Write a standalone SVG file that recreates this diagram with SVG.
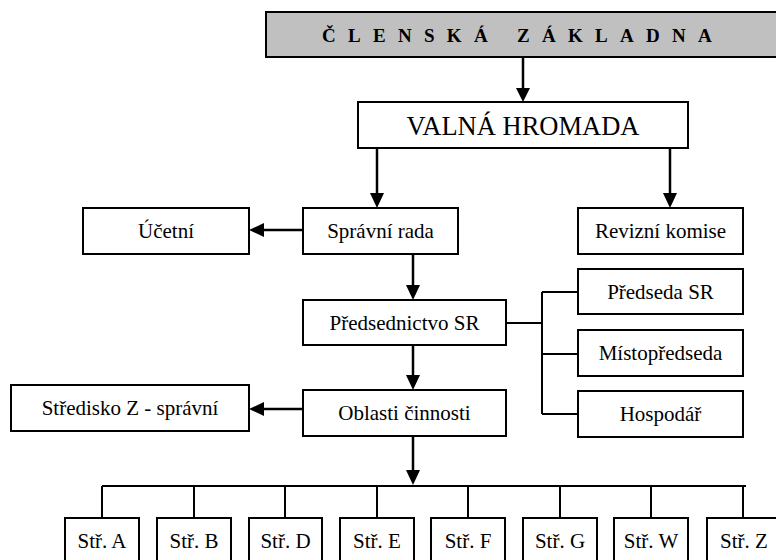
<svg xmlns="http://www.w3.org/2000/svg" width="776" height="560" viewBox="0 0 776 560">
<defs>
<style>
.box{fill:#fff;stroke:#000;stroke-width:2}
.hdr{fill:#c0c0c0;stroke:#000;stroke-width:2}
.t{font-family:"Liberation Serif","Times New Roman",serif;font-size:21px;fill:#000;text-anchor:middle}
.big{font-size:26.5px}
.ht{font-family:"Liberation Serif","Times New Roman",serif;font-size:19px;font-weight:bold;fill:#000;letter-spacing:12.3px}
.arr{fill:none;stroke:#000;stroke-width:2.5}
.ln{fill:none;stroke:#000;stroke-width:2}
.ah{fill:#000}
</style>
</defs>
<g id="connectors">
<path class="arr" d="M523 57V90"/><path class="ah" d="M516 88H530L523 102Z"/>
<path class="arr" d="M377 148V194"/><path class="ah" d="M370 193H384L377 208Z"/>
<path class="arr" d="M670 148V194"/><path class="ah" d="M663 193H677L670 208Z"/>
<path class="arr" d="M303 230H262"/><path class="ah" d="M264 223V237L249 230Z"/>
<path class="arr" d="M413 254V287"/><path class="ah" d="M406 285H420L413 300Z"/>
<path class="arr" d="M413 345V377"/><path class="ah" d="M406 375H420L413 390Z"/>
<path class="arr" d="M303 409H262"/><path class="ah" d="M264 402V416L249 409Z"/>
<path class="arr" d="M413 436V472"/><path class="ah" d="M406 470H420L413 485Z"/>
<path class="ln" d="M506 323H542M542 292V414M542 292H578M542 354H578M542 414H578"/>
<path class="ln" d="M102 486H746M102 486V518M194 486V518M285 486V518M377 486V518M468 486V518M560 486V518M651 486V518M743 486V518"/>
</g>
<g id="clenska-zakladna"><rect class="hdr" x="266" y="12" width="520" height="45"/><text class="ht" x="322" y="42">ČLENSKÁ ZÁKLADNA</text></g>
<g id="valna-hromada"><rect class="box" x="358" y="102" width="330" height="46"/><text class="t big" x="523" y="135">VALNÁ HROMADA</text></g>
<g id="ucetni"><rect class="box" x="83" y="208" width="166" height="46"/><text class="t" x="166" y="238">Účetní</text></g>
<g id="spravni-rada"><rect class="box" x="303" y="208" width="155" height="46"/><text class="t" x="380.5" y="238">Správní rada</text></g>
<g id="revizni-komise"><rect class="box" x="578" y="208" width="165" height="46"/><text class="t" x="660.5" y="238">Revizní komise</text></g>
<g id="predsednictvo"><rect class="box" x="303" y="300" width="203" height="45"/><text class="t" x="404.5" y="330">Předsednictvo SR</text></g>
<g id="predseda"><rect class="box" x="578" y="269" width="165" height="45"/><text class="t" x="660.5" y="299">Předseda SR</text></g>
<g id="mistopredseda"><rect class="box" x="578" y="330" width="165" height="46"/><text class="t" x="660.5" y="360">Místopředseda</text></g>
<g id="hospodar"><rect class="box" x="578" y="391" width="165" height="46"/><text class="t" x="660.5" y="421">Hospodář</text></g>
<g id="oblasti"><rect class="box" x="303" y="390" width="203" height="46"/><text class="t" x="404.5" y="420">Oblasti činnosti</text></g>
<g id="stredisko-z"><rect class="box" x="11" y="385" width="238" height="46"/><text class="t" x="130" y="415">Středisko Z - správní</text></g>
<g id="str-a"><rect class="box" x="65" y="518" width="74" height="50"/><text class="t" x="102" y="548">Stř. A</text></g>
<g id="str-b"><rect class="box" x="157" y="518" width="74" height="50"/><text class="t" x="194" y="548">Stř. B</text></g>
<g id="str-d"><rect class="box" x="249" y="518" width="73" height="50"/><text class="t" x="285.5" y="548">Stř. D</text></g>
<g id="str-e"><rect class="box" x="340" y="518" width="74" height="50"/><text class="t" x="377" y="548">Stř. E</text></g>
<g id="str-f"><rect class="box" x="431" y="518" width="74" height="50"/><text class="t" x="468" y="548">Stř. F</text></g>
<g id="str-g"><rect class="box" x="523" y="518" width="74" height="50"/><text class="t" x="560" y="548">Stř. G</text></g>
<g id="str-w"><rect class="box" x="614" y="518" width="74" height="50"/><text class="t" x="651" y="548">Stř. W</text></g>
<g id="str-z"><rect class="box" x="707" y="518" width="74" height="50"/><text class="t" x="744" y="548">Stř. Z</text></g>
</svg>
